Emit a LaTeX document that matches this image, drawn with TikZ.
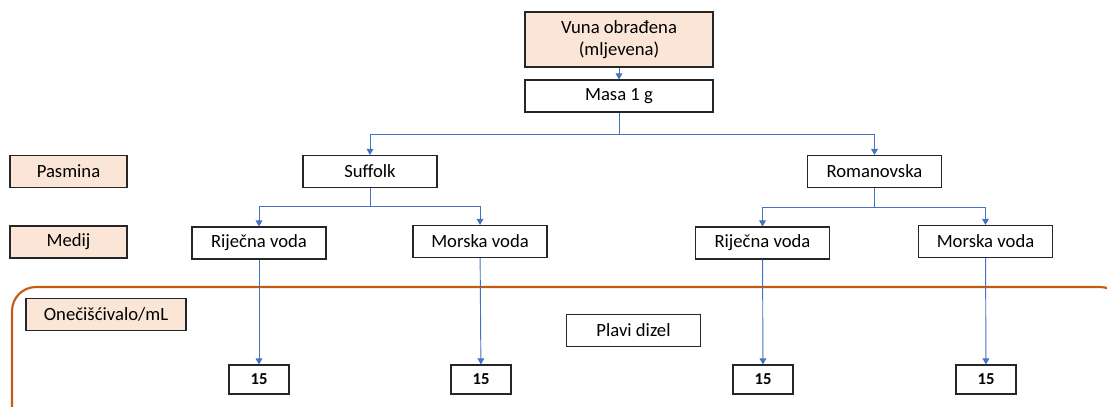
\documentclass[tikz,border=0pt]{standalone}
\usepackage{fontspec}
\setmainfont{Carlito}
\usetikzlibrary{arrows.meta}
\definecolor{peach}{HTML}{FBE5D6}
\definecolor{rust}{HTML}{C55A11}
\definecolor{linkblue}{HTML}{4472C4}
\tikzset{
	box/.style={draw=black!85, line width=0.8pt, inner sep=0pt, align=center, font=\fontsize{14}{17}\selectfont, minimum width=100.5pt, minimum height=24pt},
	tag/.style={box, fill=peach, minimum width=87.75pt},
	num/.style={draw=black!85, line width=0.8pt, inner sep=0pt, font=\fontsize{12.5}{15}\selectfont\bfseries, minimum width=45pt, minimum height=21.75pt},
	link/.style={draw=linkblue, line width=0.7pt, -{Triangle[width=5pt,length=4.5pt]}},
}

\begin{document}
\begin{tikzpicture}[x=0.75pt,y=-0.75pt]
	\useasboundingbox (0,0) rectangle (1107,407);
	\clip (0,0) rectangle (1107,407);
	% frame round the pollutant row
	\draw[rust, line width=1.6pt, rounded corners=18pt] (12,287) rectangle (1124,440);

	\node[box, fill=peach, minimum width=141pt, minimum height=41.25pt] (vuna) at (619,39.5) {Vuna obrađena\\(mljevena)};
	\node[box, minimum width=141pt] (masa) at (619,96) {Masa 1 g};

	\node[tag] (pasmina) at (68.5,171.5) {Pasmina};
	\node[tag] (medij) at (68.5,242) {Medij};
	\node[tag, minimum width=120pt] (oneci) at (106,314.5) {Onečišćivalo/mL};

	\node[box] (suffolk) at (370,171.5) {Suffolk};
	\node[box] (roman) at (874.5,171.5) {Romanovska};

	\node[box] (rijekaS) at (259,243) {Riječna voda};
	\node[box] (moreS) at (480,241.5) {Morska voda};
	\node[box] (rijekaR) at (762.5,243) {Riječna voda};
	\node[box] (moreR) at (985.5,241.5) {Morska voda};

	\node[box] (dizel) at (633.5,330.5) {Plavi dizel};

	\node[num] (n1) at (259,379.5) {15};
	\node[num] (n2) at (481,379.5) {15};
	\node[num] (n3) at (763,379.5) {15};
	\node[num] (n4) at (986,379.5) {15};

	\coordinate (j0) at (619,134);
	\coordinate (j1) at (370,206);
	\coordinate (j2) at (874.5,207);

	\draw[link] (vuna) -- (masa);
	\draw[link] (masa.south) -- (j0) -| (suffolk.north);
	\draw[link] (j0) -| (roman.north);
	\draw[link] (suffolk.south) -- (j1) -| (rijekaS.north);
	\draw[link] (j1) -| (moreS.north);
	\draw[link] (roman.south) -- (j2) -| (rijekaR.north);
	\draw[link] (j2) -| (moreR.north);
	\draw[link] (rijekaS) -- (n1);
	\draw[link] (moreS) -- (n2);
	\draw[link] (rijekaR) -- (n3);
	\draw[link] (moreR) -- (n4);
\end{tikzpicture}
\end{document}
